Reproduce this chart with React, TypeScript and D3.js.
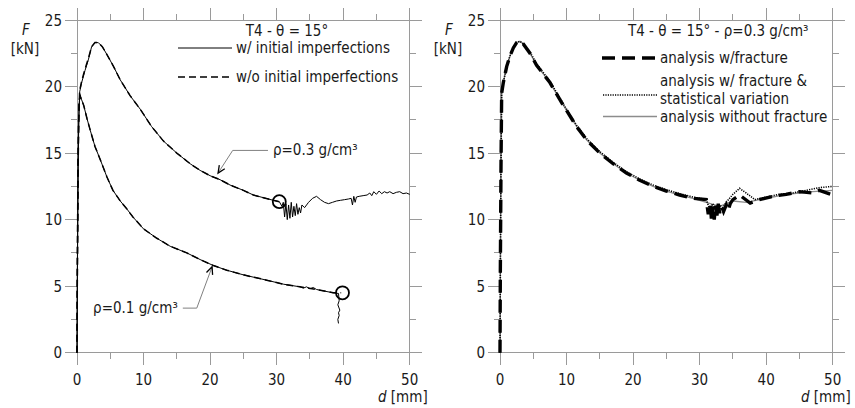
import React from "react";
import * as d3 from "d3";

// ---------- data (d in mm, F in kN) ----------
const xTicksMajor = [0, 10, 20, 30, 40, 50];
const xTicksMinor = [5, 15, 25, 35, 45];
const yTicksMajor = [0, 5, 10, 15, 20, 25];
const yTicksMinor = [2.5, 7.5, 12.5, 17.5, 22.5];

// Left: rho = 0.3, with initial imperfections (solid)
const r03ImpD = [0, 0.05, 0.15, 0.25, 0.4, 0.7, 1.2, 1.7, 2.2, 2.7, 3.2, 3.8, 4.5, 5.5, 6.5, 8, 9.5, 11.2, 13, 15, 17, 18.5, 20, 21.5, 23, 25, 26.5, 28, 29.5, 30.4,
  30.8, 31.0, 31.2, 31.4, 31.6, 31.8, 32.0, 32.2, 32.4, 32.6, 32.8, 33.0, 33.2, 33.4, 33.6, 33.8, 34.2, 34.8, 35.4, 36.0, 36.6, 37.2, 37.8, 38.4, 39.0, 39.6, 40.2, 40.8, 41.2, 41.4, 41.6, 41.8, 42.0, 42.4, 43.0, 43.6, 44.0, 44.3, 44.6, 45.0, 45.4, 45.8, 46.2, 46.6, 47.0, 47.5, 48.0, 48.5, 49.0, 49.5, 50];
const r03ImpF = [0, 5, 12, 17, 19.6, 20.3, 21.2, 22.0, 23.0, 23.3, 23.3, 23.0, 22.4, 21.5, 20.5, 19.3, 18.3, 17.0, 15.9, 15.0, 14.2, 13.7, 13.3, 13.0, 12.6, 12.2, 11.85, 11.65, 11.45, 11.35,
  11.0, 11.3, 10.2, 11.2, 10.0, 11.1, 10.1, 11.3, 10.2, 11.0, 10.3, 11.2, 10.4, 10.9, 10.5, 11.1, 10.9, 11.3, 11.6, 11.75, 11.5, 11.3, 11.2, 11.3, 11.4, 11.45, 11.5, 11.55, 11.6, 11.1, 11.75, 11.3, 11.7, 11.75, 11.8, 11.85, 12.0, 11.8, 12.1, 11.9, 12.15, 11.95, 12.1, 12.0, 12.1, 11.95, 12.05, 12.1, 11.95, 12.0, 11.9];

// Left: rho = 0.3, without initial imperfections (dashed)
const r03NoImpD = [0, 0.05, 0.15, 0.25, 0.4, 0.7, 1.2, 1.7, 2.2, 2.7, 3.2, 3.8, 4.5, 5.5, 6.5, 8, 9.5, 11.2, 13, 15, 17, 18.5, 20, 21.5, 23, 25, 26.5, 28, 29.5, 30.4];
const r03NoImpF = [0, 5.5, 12.5, 17.5, 19.7, 20.4, 21.3, 22.1, 23.0, 23.3, 23.3, 23.0, 22.4, 21.5, 20.5, 19.3, 18.3, 17.0, 15.9, 15.0, 14.2, 13.7, 13.3, 13.0, 12.6, 12.2, 11.85, 11.65, 11.45, 11.35];

// Left: rho = 0.1, with initial imperfections (solid)
const r01ImpD = [0, 0.05, 0.15, 0.3, 0.45, 0.7, 1.0, 1.5, 2.0, 2.7, 3.5, 4.5, 5.4, 6.5, 7.5, 8.4, 10, 12, 14, 16.5, 18.5, 20.5, 22.5, 25, 28.5, 31, 33.5, 34, 34.5, 35, 35.5, 36, 37, 38.5, 39.3, 39.4, 39.2, 39.5, 39.3, 39.4, 39.2, 39.3];
const r01ImpF = [0, 6, 14, 18.5, 19.4, 19.0, 18.6, 17.6, 16.7, 15.5, 14.5, 13.2, 12.2, 11.4, 10.8, 10.2, 9.3, 8.6, 8.0, 7.5, 7.0, 6.55, 6.2, 5.85, 5.45, 5.15, 4.95, 4.85, 4.95, 4.8, 4.9, 4.75, 4.65, 4.5, 4.45, 3.9, 3.6, 3.2, 3.0, 2.8, 2.5, 2.2];

// Left: rho = 0.1, without initial imperfections (dashed)
const r01NoImpD = [0, 0.05, 0.15, 0.3, 0.45, 0.7, 1.0, 1.5, 2.0, 2.7, 3.5, 4.5, 5.4, 6.5, 7.5, 8.4, 10, 12, 14, 16.5, 18.5, 20.5, 22.5, 25, 28.5, 31, 33.5, 36, 38.5, 39.7];
const r01NoImpF = [0, 6.5, 14.5, 18.7, 19.3, 19.0, 18.6, 17.6, 16.7, 15.5, 14.5, 13.2, 12.2, 11.4, 10.8, 10.2, 9.3, 8.6, 8.0, 7.5, 7.0, 6.55, 6.2, 5.85, 5.45, 5.15, 4.95, 4.75, 4.5, 4.5];

// Right: analysis with fracture (thick dashed)
const fracD = [0, 0.05, 0.15, 0.25, 0.5, 1.0, 1.5, 2.0, 2.5, 3.0, 3.5, 4.5, 5.5, 7.5, 9.5, 11.5, 13, 15, 17, 19, 21, 23, 25, 27, 29, 31,
  31.3, 31.6, 31.8, 32.0, 32.2, 32.4, 32.6, 32.8, 33.0, 33.3, 33.6, 34.0, 34.3, 34.6, 35, 36, 37.6, 39, 41, 43, 45, 47, 48, 50];
const fracF = [0, 6, 14, 19.5, 20.3, 21.5, 22.3, 22.9, 23.3, 23.4, 23.2, 22.5, 21.6, 20.3, 18.6, 17.0, 16.0, 15.0, 14.2, 13.5, 12.96, 12.5, 12.15, 11.85, 11.6, 11.5,
  10.4, 11.2, 9.85, 11.0, 10.0, 11.1, 10.3, 11.2, 10.5, 11.0, 10.6, 11.1, 10.7, 11.2, 11.5, 11.85, 11.25, 11.5, 11.75, 11.9, 12.1, 12.0, 12.2, 11.85];

// Right: analysis with fracture & statistical variation (dotted)
const statD = [0, 0.05, 0.15, 0.25, 0.5, 1.0, 1.5, 2.0, 2.5, 3.0, 3.5, 4.5, 5.5, 7.5, 9.5, 11.5, 13, 15, 17, 19, 21, 23, 25, 27, 29, 31,
  31.5, 32, 32.5, 33, 33.5, 34, 35, 36, 37, 38.3, 40, 42, 44, 46, 48, 50];
const statF = [0, 6, 14, 19.5, 20.3, 21.5, 22.3, 22.9, 23.3, 23.4, 23.2, 22.6, 21.7, 20.4, 18.7, 17.1, 16.1, 15.1, 14.3, 13.6, 13.05, 12.6, 12.25, 11.95, 11.7, 11.5,
  10.8, 11.2, 10.7, 11.1, 10.9, 11.3, 11.9, 12.35, 12.0, 11.5, 11.7, 11.9, 12.0, 12.2, 12.4, 12.5];

// Right: analysis without fracture (gray solid)
const noFracD = [0, 0.05, 0.15, 0.25, 0.5, 1.0, 1.5, 2.0, 2.5, 3.0, 3.5, 4.5, 5.5, 7.5, 9.5, 11.5, 13, 15, 17, 19, 21, 23, 25, 27, 29, 31, 33, 35, 37, 39, 41, 43, 45, 47, 50];
const noFracF = [0, 6, 14, 19.5, 20.3, 21.5, 22.3, 22.9, 23.3, 23.4, 23.2, 22.5, 21.6, 20.3, 18.6, 17.0, 16.0, 15.0, 14.2, 13.5, 12.96, 12.5, 12.15, 11.85, 11.6, 11.3, 11.0, 11.4, 11.3, 11.5, 11.7, 11.9, 12.0, 12.1, 12.2];

// ---------- layout ----------
const FONT = "'DejaVu Sans Condensed', 'DejaVu Sans', sans-serif";
const AXIS = "#9a9a9a";
const TXT = "#1a1a1a";
const DASH_THIN = "7,4";
const DASH_THICK = "13,7";
const DOT = "1.2,1.2";

const zip = (ds: number[], fs: number[]) => ds.map((d, i) => [d, fs[i]] as [number, number]);

const y = d3.scaleLinear().domain([0, 25]).range([352.7, 20]);

function Frame({ x }: { x: d3.ScaleLinear<number, number> }) {
  const [x0, x1] = x.range();
  const [y0, y1] = y.range();
  return (
    <g stroke={AXIS} strokeWidth={1} fill="none" shapeRendering="crispEdges">
      <rect x={x0} y={y1} width={x1 - x0} height={y0 - y1} />
      {xTicksMajor.map((t) => (
        <g key={"xM" + t}>
          <line x1={x(t)} x2={x(t)} y1={y0} y2={y0 + 12} />
          <line x1={x(t)} x2={x(t)} y1={y1} y2={y1 - 12} />
        </g>
      ))}
      {xTicksMinor.map((t) => (
        <g key={"xm" + t}>
          <line x1={x(t)} x2={x(t)} y1={y0} y2={y0 + 6} />
          <line x1={x(t)} x2={x(t)} y1={y1} y2={y1 - 6} />
        </g>
      ))}
      {yTicksMajor.map((t) => (
        <g key={"yM" + t}>
          <line x1={x0 - 12} x2={x0} y1={y(t)} y2={y(t)} />
          <line x1={x1} x2={x1 + 12} y1={y(t)} y2={y(t)} />
        </g>
      ))}
      {yTicksMinor.map((t) => (
        <g key={"ym" + t}>
          <line x1={x0 - 6} x2={x0} y1={y(t)} y2={y(t)} />
          <line x1={x1} x2={x1 + 6} y1={y(t)} y2={y(t)} />
        </g>
      ))}
    </g>
  );
}

function TickLabels({ x }: { x: d3.ScaleLinear<number, number> }) {
  const [x0, x1] = x.range();
  return (
    <g fontFamily={FONT} fontSize={15} fill={TXT}>
      {xTicksMajor.map((t) => (
        <text key={"xl" + t} x={x(t)} y={385} textAnchor="middle">{t}</text>
      ))}
      {yTicksMajor.map((t) => (
        <text key={"yl" + t} x={x0 - 15} y={y(t) + 5.5} textAnchor="end">{t}</text>
      ))}
      <text x={x0 - 51} y={35} fontStyle="italic" textAnchor="middle">F</text>
      <text x={x0 - 52} y={54} textAnchor="middle">[kN]</text>
      <text x={x1 + 18} y={402} textAnchor="end"><tspan fontStyle="italic">d</tspan> [mm]</text>
    </g>
  );
}

function Arrow({ from, to }: { from: [number, number]; to: [number, number] }) {
  const ang = Math.atan2(to[1] - from[1], to[0] - from[0]);
  const L = 8, w = 0.42;
  const a1: [number, number] = [to[0] - L * Math.cos(ang - w), to[1] - L * Math.sin(ang - w)];
  const a2: [number, number] = [to[0] - L * Math.cos(ang + w), to[1] - L * Math.sin(ang + w)];
  return (
    <path d={`M${a1[0]},${a1[1]} L${to[0]},${to[1]} L${a2[0]},${a2[1]}`} fill="none" stroke="#000" strokeWidth={1.3} />
  );
}

export default function App() {
  const xL = d3.scaleLinear().domain([0, 50]).range([77, 409.7]);
  const xR = d3.scaleLinear().domain([0, 50]).range([500, 832.7]);
  const lineL = d3.line<[number, number]>().x((p) => xL(p[0])).y((p) => y(p[1]));
  const lineR = d3.line<[number, number]>().x((p) => xR(p[0])).y((p) => y(p[1]));

  // annotation geometry in data units
  const a03Tip: [number, number] = [xL(21.2), y(13.5)];
  const a03Elbow: [number, number] = [xL(23.4), y(15.2)];
  const a03End: [number, number] = [xL(28.7), y(15.2)];
  const a01Tip: [number, number] = [xL(20.3), y(6.45)];
  const a01Elbow: [number, number] = [xL(18.0), y(3.35)];
  const a01End: [number, number] = [xL(15.9), y(3.35)];

  return (
    <svg width={855} height={408} style={{ position: "absolute", left: 0, top: 0, background: "#fff" }}>
      <rect width={855} height={408} fill="#fff" />
      <Frame x={xL} />
      <Frame x={xR} />
      <TickLabels x={xL} />
      <TickLabels x={xR} />

      {/* Left curves */}
      <g fill="none" stroke="#000">
        <path d={lineL(zip(r03ImpD, r03ImpF)) || ""} strokeWidth={1} />
        <path d={lineL(zip(r03NoImpD, r03NoImpF)) || ""} strokeWidth={1.5} strokeDasharray={DASH_THIN} />
        <path d={lineL(zip(r01ImpD, r01ImpF)) || ""} strokeWidth={1} />
        <path d={lineL(zip(r01NoImpD, r01NoImpF)) || ""} strokeWidth={1.5} strokeDasharray={DASH_THIN} />
        <circle cx={xL(30.4)} cy={y(11.35)} r={6.5} strokeWidth={1.8} />
        <circle cx={xL(39.9)} cy={y(4.5)} r={6.5} strokeWidth={1.8} />
      </g>

      {/* Left annotations */}
      <g fill="none" stroke="#808080" strokeWidth={1}>
        <polyline points={[a03End, a03Elbow, a03Tip].map((p) => p.join(",")).join(" ")} />
        <polyline points={[a01End, a01Elbow, a01Tip].map((p) => p.join(",")).join(" ")} />
      </g>
      <Arrow from={a03Elbow} to={a03Tip} />
      <Arrow from={a01Elbow} to={a01Tip} />
      <g fontFamily={FONT} fontSize={15} fill={TXT}>
        <text x={a03End[0] + 5} y={a03End[1] + 5}>ρ=0.3 g/cm³</text>
        <text x={a01End[0] - 5} y={a01End[1] + 5} textAnchor="end">ρ=0.1 g/cm³</text>
      </g>

      {/* Left legend */}
      <g fontFamily={FONT} fontSize={15} fill={TXT}>
        <text x={287} y={36} textAnchor="middle">T4 - θ = 15°</text>
        <text x={236} y={53}>w/ initial imperfections</text>
        <text x={236} y={82}>w/o initial imperfections</text>
      </g>
      <line x1={178} x2={232} y1={48} y2={48} stroke="#000" strokeWidth={1} />
      <line x1={178} x2={232} y1={77} y2={77} stroke="#000" strokeWidth={1.5} strokeDasharray={DASH_THIN} />

      {/* Right curves */}
      <g fill="none">
        <path d={lineR(zip(noFracD, noFracF)) || ""} stroke="#8c8c8c" strokeWidth={1.3} />
        <path d={lineR(zip(statD, statF)) || ""} stroke="#000" strokeWidth={1.6} strokeDasharray={DOT} />
        <path d={lineR(zip(fracD, fracF)) || ""} stroke="#000" strokeWidth={3.4} strokeDasharray={DASH_THICK} />
      </g>

      {/* Right legend */}
      <g fontFamily={FONT} fontSize={15} fill={TXT}>
        <text x={628} y={36}>T4 - θ = 15° - ρ=0.3 g/cm³</text>
        <text x={660} y={63}>analysis w/fracture</text>
        <text x={660} y={85.5}>analysis w/ fracture &amp;</text>
        <text x={660} y={103.5}>statistical variation</text>
        <text x={660} y={121.5}>analysis without fracture</text>
      </g>
      <line x1={602} x2={657} y1={58} y2={58} stroke="#000" strokeWidth={3.4} strokeDasharray={DASH_THICK} />
      <line x1={603} x2={657} y1={95} y2={95} stroke="#000" strokeWidth={1.6} strokeDasharray={DOT} />
      <line x1={603} x2={657} y1={116.5} y2={116.5} stroke="#8c8c8c" strokeWidth={1.3} />
    </svg>
  );
}
